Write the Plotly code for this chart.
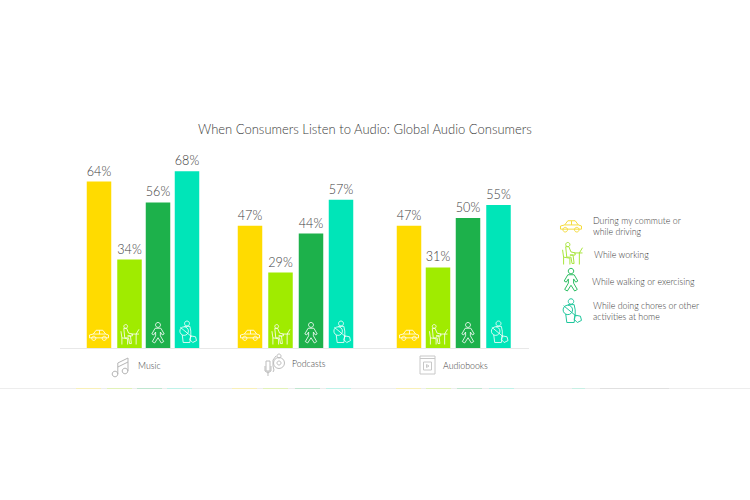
"""When Consumers Listen to Audio - grouped bars with line icons"""

import plotly.graph_objects as go

# data
categories = ["Music", "Podcasts", "Audiobooks"]
series_names = [
    "During my commute or<br>while driving",
    "While working",
    "While walking or exercising",
    "While doing chores or other<br>activities at home",
]
commute = [64, 47, 47]
working = [34, 29, 31]
walking = [56, 44, 50]
chores = [68, 57, 55]
title_text = "When Consumers Listen to Audio: Global Audio Consumers"

# styles / layout (everything is in page pixels of the 750x500 window)
W, H = 750, 500
BASE_Y = 348
PX_PER_PCT = 2.6
BAR_W = 24.5
COLORS = ["#FFDB00", "#A0EB00", "#1DB14B", "#00E5B8"]
ICON_COLORS = ["#F5DC3C", "#A8E63C", "#2DBE62", "#1FC79C"]
TEXT = "#3C3C3C"
FONT = "Lato Light, Lato"
bar_x = [
    [99, 250, 409],
    [129.5, 280.5, 438],
    [158, 311, 468],
    [187, 341, 498.5],
]
all_values = [commute, working, walking, chores]
strip_x = [
    [88.5, 119.5, 149.5, 179.5],
    [244.5, 275.5, 307.5, 338.5],
    [408.5, 438.5, 469.5, 501.5],
]


def px(x):
    return x / W


def py(y):
    return 1 - y / H


def polyline(pts, ox, oy, s, close=False):
    d = "M" + " L".join(f"{px(ox + x * s):.5f},{py(oy + y * s):.5f}" for x, y in pts)
    return d + (" Z" if close else "")


def circle(cx, cy, r, ox, oy, s):
    k = 0.5523 * r
    segs = [
        ((cx + r, cy + k), (cx + k, cy + r), (cx, cy + r)),
        ((cx - k, cy + r), (cx - r, cy + k), (cx - r, cy)),
        ((cx - r, cy - k), (cx - k, cy - r), (cx, cy - r)),
        ((cx + k, cy - r), (cx + r, cy - k), (cx + r, cy)),
    ]
    d = f"M{px(ox + (cx + r) * s):.5f},{py(oy + cy * s):.5f}"
    for seg in segs:
        d += " C" + " ".join(f"{px(ox + x * s):.5f},{py(oy + y * s):.5f}" for x, y in seg)
    return d + " Z"


# icons: ("l", points) open line, ("p", points) closed, ("c", cx, cy, r) circle
CAR = [
    ("p", [(-10, 3), (-10, 0), (-6, -1), (-3, -5), (4, -5), (7, -1), (10, 0), (10, 3)]),
    ("l", [(-6, -1), (7, -1)]),
    ("l", [(0.5, -5), (0.5, -1)]),
    ("c", -5.5, 3.5, 2.2),
    ("c", 5.5, 3.5, 2.2),
]
WORKER = [
    ("c", -4, -9, 2),
    ("p", [(-6, -7), (-3, -7), (-1, -2), (3, -1), (3, 1), (-2, 1), (1, 1), (2, 9), (0, 9), (-1, 3), (-5, 3)]),
    ("l", [(-9, -4), (-8, 3), (-8, 10)]),
    ("l", [(-8, 3), (-2, 4), (-2, 10)]),
    ("l", [(2, -1), (10, -1)]),
    ("l", [(7, -1), (10, -6)]),
    ("l", [(7, -1), (7, 10)]),
]
WALKER = [
    ("c", 0, -8.5, 2.6),
    ("p", [(-3, -5), (3, -5), (6.5, 1), (4.5, 2), (2.5, -1), (2.5, 3), (6, 9), (3.5, 10.5), (0, 5), (-3.5, 10.5), (-6, 9), (-2.5, 3), (-2.5, -1), (-4.5, 2), (-6.5, 1)]),
]
CHORES = [
    ("c", 0, -10, 2.6),
    ("c", -3, -2, 4.5),
    ("l", [(-3, -7), (3, -7), (4, -2), (4, 2)]),
    ("l", [(-5, 2), (-4, 10), (3, 10), (4, 2)]),
    ("l", [(-7, -6), (5, 4)]),
    ("p", [(4, 3), (9, 4), (10, 8), (6, 10), (3, 7)]),
]
NOTE = [
    ("c", -5, 7, 2.8),
    ("c", 5, 4, 2.8),
    ("l", [(-2.2, 7), (-2.2, -4), (8, -9), (8, 4)]),
    ("l", [(-2.2, 0), (8, -5)]),
]
MIC = [
    ("p", [(-9, -4), (-5, -4), (-5, 6), (-9, 6)]),
    ("l", [(-7, 6), (-7, 11)]),
    ("l", [(-10, 1), (-10, 6), (-7, 8), (-4, 6), (-4, 1)]),
    ("c", 4, -2, 5.5),
    ("c", 4, -2, 2),
    ("c", 4, -9, 2),
    ("l", [(-2, 7), (-1, 5), (-2, 1), (-2, -5), (1, -9)]),
]
BOOK = [
    ("p", [(-7.5, -9), (7.5, -9), (7.5, 9), (-7.5, 9)]),
    ("l", [(-7.5, -6.5), (7.5, -6.5)]),
    ("p", [(-4, -3), (4, -3), (4, 5), (-4, 5)]),
    ("p", [(-1, -0.5), (1.5, 1), (-1, 2.5)]),
]
ACTIVITY_ICONS = [CAR, WORKER, WALKER, CHORES]
ICON_OFFSET_Y = [335, 335, 333, 333]


def icon_shapes(icon, ox, oy, color, s=1.0, width=1.0, fill=None):
    out = []
    for part in icon:
        if part[0] == "c":
            path = circle(part[1], part[2], part[3], ox, oy, s)
        else:
            path = polyline(part[1], ox, oy, s, close=part[0] == "p")
        out.append(dict(
            type="path", path=path, xref="paper", yref="paper",
            line=dict(color=color, width=width),
            fillcolor=fill or "rgba(0,0,0,0)", layer="above",
        ))
    return out


fig = go.Figure()

for name, values, xs, color in zip(series_names, all_values, bar_x, COLORS):
    fig.add_trace(go.Bar(
        x=xs,
        y=values,
        width=BAR_W,
        name=name.replace("<br>", " "),
        marker=dict(color=color, line=dict(width=0)),
        text=[f"{v}%" for v in values],
        textposition="outside",
        cliponaxis=False,
        textfont=dict(family=FONT, size=13, color=TEXT),
        hovertemplate="%{y}%<extra></extra>",
        showlegend=False,
    ))

shapes = []

# baseline and the faint rule below the chart
shapes.append(dict(type="line", xref="paper", yref="paper", x0=px(60), x1=px(529),
                   y0=py(348.5), y1=py(348.5), line=dict(color="#E8E8E8", width=1)))
shapes.append(dict(type="line", xref="paper", yref="paper", x0=0, x1=1,
                   y0=py(388.5), y1=py(388.5), line=dict(color="#EDEDED", width=1)))

# tints of the next (cropped) row of bars on that rule
for group in strip_x:
    for cx, color in zip(group, ["#F8F0B8", "#E2F2B8", "#BFE6CF", "#BFF2E8"]):
        shapes.append(dict(type="line", xref="paper", yref="paper", x0=px(cx - 12.5), x1=px(cx + 12.5),
                           y0=py(388.5), y1=py(388.5), line=dict(color=color, width=1)))
shapes.append(dict(type="line", xref="paper", yref="paper", x0=px(572), x1=px(585),
                   y0=py(388.5), y1=py(388.5), line=dict(color="#C8EFE4", width=1)))
shapes.append(dict(type="line", xref="paper", yref="paper", x0=px(600), x1=px(669),
                   y0=py(388.5), y1=py(388.5), line=dict(color="#E0E0E0", width=1)))

# white icons at the foot of each bar
for i, xs in enumerate(bar_x):
    for cx in xs:
        shapes += icon_shapes(ACTIVITY_ICONS[i], cx, ICON_OFFSET_Y[i], "rgba(255,255,255,0.9)", s=0.95, width=0.9)

# category icons
shapes += icon_shapes(NOTE, 120, 367, "#B5B5B5", width=1.0)
shapes += icon_shapes(MIC, 275, 365, "#BDBDBD", width=1.0)
shapes += icon_shapes(BOOK, 427.5, 365, "#C8C8C8", width=1.0)

# legend icons
legend_y = [226, 254, 280, 312]
legend_icon_x = [571, 572, 571, 571]
legend_text_x = [591, 592, 590, 591]
legend_text_y = [226, 254, 281, 311]
for i in range(4):
    shapes += icon_shapes(ACTIVITY_ICONS[i], legend_icon_x[i], legend_y[i], ICON_COLORS[i], s=1.05, width=1.0)

annotations = [
    dict(text=title_text, x=px(365), y=py(129), xref="paper", yref="paper", showarrow=False,
         xanchor="center", yanchor="middle", font=dict(family=FONT, size=13, color=TEXT)),
]

cat_x = [136, 290, 441]
cat_y = [365, 363, 365]
for text, x, y in zip(categories, cat_x, cat_y):
    annotations.append(dict(text=text, x=px(x), y=py(y), xref="paper", yref="paper", showarrow=False,
                            xanchor="left", yanchor="middle", font=dict(family=FONT, size=8.8, color=TEXT)))

for text, x, y in zip(series_names, legend_text_x, legend_text_y):
    annotations.append(dict(text=text, x=px(x), y=py(y), xref="paper", yref="paper", showarrow=False,
                            xanchor="left", yanchor="middle", align="left",
                            font=dict(family=FONT, size=8.8, color=TEXT)))

fig.update_layout(
    width=W,
    height=H,
    margin=dict(l=0, r=0, t=0, b=0),
    paper_bgcolor="white",
    plot_bgcolor="white",
    barmode="overlay",
    xaxis=dict(range=[0, W], visible=False, fixedrange=True),
    # the zero of this axis sits on the baseline at y=348px
    yaxis=dict(range=[-(H - BASE_Y) / PX_PER_PCT, BASE_Y / PX_PER_PCT], visible=False, fixedrange=True),
    shapes=shapes,
    annotations=annotations,
)

# the page's default body margin would push the figure 8px in
fig.write_html("out.html", config=dict(displayModeBar=False),
               post_script="document.body.style.margin='0';")
